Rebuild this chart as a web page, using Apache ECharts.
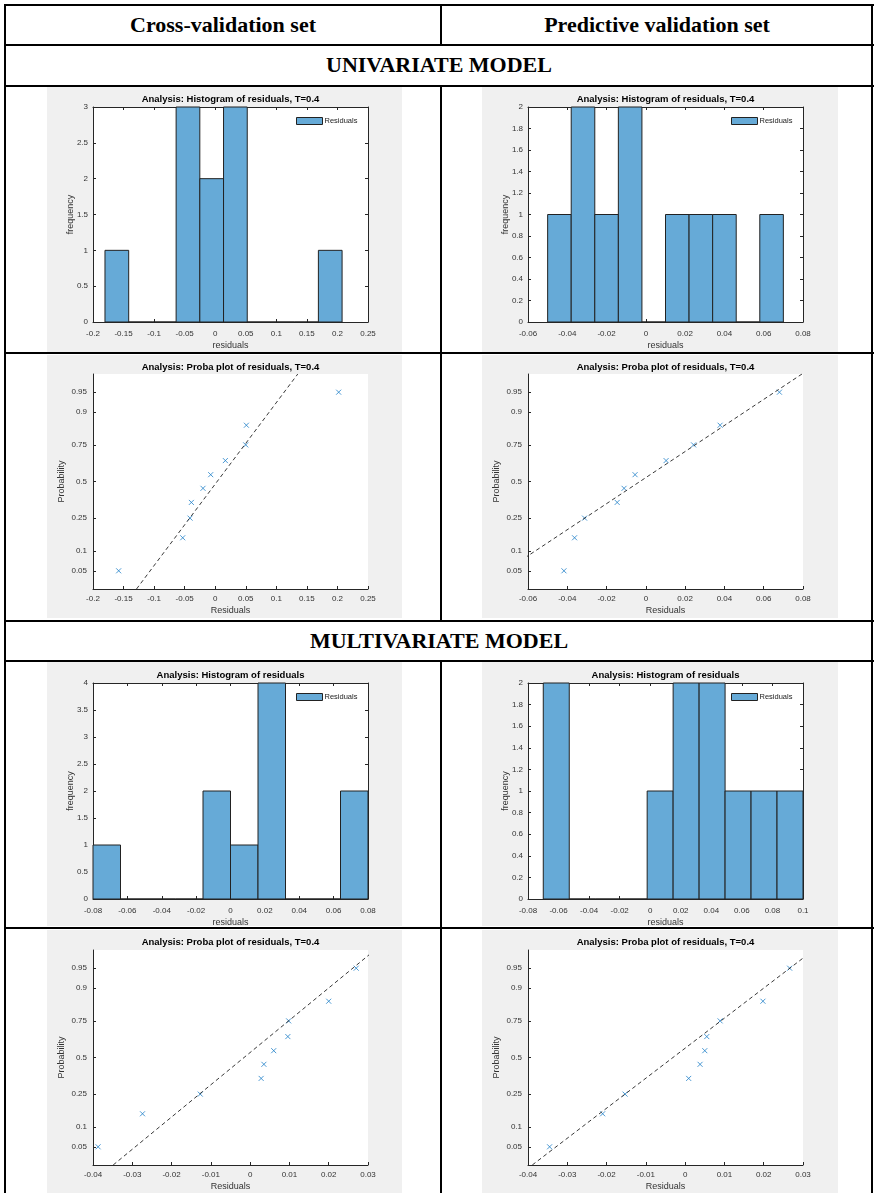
<!DOCTYPE html>
<html>
<head>
<meta charset="utf-8">
<script src="https://cdn.jsdelivr.net/npm/echarts@6.0.0/dist/echarts.min.js"></script>
<style>
  body { margin: 0; background: #fff; }
  #page { position: relative; width: 876px; height: 1193px; overflow: hidden; }
  .line { position: absolute; background: #000; }
  .head { position: absolute; font-family: "Liberation Serif", serif; font-weight: bold; font-size: 22px;
          color: #000; text-align: center; line-height: 24px; }
  .panel { position: absolute; background: #f0f0f0; }
</style>
</head>
<body>
<div id="page">
  <div class="head" style="left:6px;width:434px;top:13px;">Cross-validation set</div>
  <div class="head" style="left:442px;width:430px;top:13px;">Predictive validation set</div>
  <div class="head" style="left:6px;width:866px;top:53px;">UNIVARIATE MODEL</div>
  <div class="head" style="left:6px;width:866px;top:629px;">MULTIVARIATE MODEL</div>

  <div class="panel" id="c1" style="left:47px;top:87px;width:355px;height:265px;"></div>
  <div class="panel" id="c2" style="left:482px;top:87px;width:356px;height:265px;"></div>
  <div class="panel" id="c3" style="left:47px;top:355px;width:355px;height:263px;"></div>
  <div class="panel" id="c4" style="left:482px;top:355px;width:356px;height:263px;"></div>
  <div class="panel" id="c5" style="left:47px;top:662px;width:355px;height:264px;"></div>
  <div class="panel" id="c6" style="left:482px;top:662px;width:356px;height:264px;"></div>
  <div class="panel" id="c7" style="left:47px;top:930px;width:355px;height:263px;"></div>
  <div class="panel" id="c8" style="left:482px;top:930px;width:356px;height:263px;"></div>

  <!-- table rules -->
  <div class="line" style="left:4px;top:4px;width:870px;height:2px;"></div>
  <div class="line" style="left:4px;top:4px;width:2px;height:1189px;"></div>
  <div class="line" style="left:871px;top:4px;width:2px;height:1189px;"></div>
  <div class="line" style="left:4px;top:44px;width:870px;height:2px;"></div>
  <div class="line" style="left:4px;top:85px;width:870px;height:2px;"></div>
  <div class="line" style="left:4px;top:352px;width:870px;height:2px;"></div>
  <div class="line" style="left:4px;top:620px;width:870px;height:2px;"></div>
  <div class="line" style="left:4px;top:660px;width:870px;height:2px;"></div>
  <div class="line" style="left:4px;top:927px;width:870px;height:2px;"></div>
  <div class="line" style="left:440px;top:4px;width:2px;height:41px;"></div>
  <div class="line" style="left:440px;top:85px;width:2px;height:536px;"></div>
  <div class="line" style="left:440px;top:660px;width:2px;height:533px;"></div>
</div>
<script>
const histTitleT = 'Analysis: Histogram of residuals, T=0.4';
const histTitle = 'Analysis: Histogram of residuals';
const probaTitle = 'Analysis: Proba plot of residuals, T=0.4';

// univariate model, cross-validation set
const uniCvEdges = [-0.1804, -0.1416, -0.1028, -0.064, -0.0252, 0.0136, 0.0524, 0.0912, 0.13, 0.1688, 0.2076];
const uniCvCounts = [1, 0, 0, 3, 2, 3, 0, 0, 0, 1];
const uniCvResiduals = [-0.158, -0.0532, -0.0412, -0.039, -0.020, -0.0074, 0.0166, 0.0499, 0.051, 0.202];
const uniCvRefLine = [[-0.0418, 0.25], [0.0481, 0.75]];
const uniCvX = [-0.2, 0.25, 0.05];
const uniCvY = [0, 3, 0.5];

// univariate model, predictive validation set
const uniPvEdges = [-0.05, -0.038, -0.026, -0.014, -0.002, 0.010, 0.022, 0.034, 0.046, 0.058, 0.070];
const uniPvCounts = [1, 2, 1, 2, 0, 1, 1, 1, 0, 1];
const uniPvResiduals = [-0.0417, -0.0363, -0.0312, -0.0146, -0.0111, -0.0055, 0.0103, 0.0243, 0.0378, 0.068];
const uniPvRefLine = [[-0.0311, 0.25], [0.0251, 0.75]];
const uniPvX = [-0.06, 0.08, 0.02];
const uniPvY = [0, 2, 0.2];

// multivariate model, cross-validation set
const mulCvEdges = [-0.08, -0.064, -0.048, -0.032, -0.016, 0, 0.016, 0.032, 0.048, 0.064, 0.08];
const mulCvCounts = [1, 0, 0, 0, 2, 1, 4, 0, 0, 2];
const mulCvResiduals = [-0.0387, -0.0274, -0.0127, 0.0028, 0.0035, 0.0060, 0.0096, 0.0098, 0.0200, 0.0270];
const mulCvRefLine = [[-0.0129, 0.25], [0.0098, 0.75]];
const mulCvX = [-0.08, 0.08, 0.02];
const mulCvY = [0, 4, 0.5];
const mulCvPX = [-0.04, 0.03, 0.01];

// multivariate model, predictive validation set
const mulPvEdges = [-0.070, -0.053, -0.036, -0.019, -0.002, 0.015, 0.032, 0.049, 0.066, 0.083, 0.100];
const mulPvCounts = [2, 0, 0, 0, 1, 2, 2, 1, 1, 1];
const mulPvResiduals = [-0.0345, -0.0210, -0.0153, 0.0009, 0.0038, 0.0050, 0.0055, 0.0089, 0.0198, 0.0266];
const mulPvRefLine = [[-0.0153, 0.25], [0.0091, 0.75]];
const mulPvX = [-0.08, 0.1, 0.02];
const mulPvY = [0, 2, 0.2];
const mulPvPX = [-0.04, 0.03, 0.01];

// plotting positions (i-0.5)/n and probability axis ticks
const probLevels = [0.05, 0.15, 0.25, 0.35, 0.45, 0.55, 0.65, 0.75, 0.85, 0.95];
const probTicks = [0.05, 0.1, 0.25, 0.5, 0.75, 0.9, 0.95];
const zLimit = 1.98;

const FONT = 'Liberation Sans';
const INK = '#262626';

function norminv(p) {
  const a = [-3.969683028665376e+01, 2.209460984245205e+02, -2.759285104469687e+02, 1.383577518672690e+02, -3.066479806614716e+01, 2.506628277459239e+00];
  const b = [-5.447609879822406e+01, 1.615858368580409e+02, -1.556989798598866e+02, 6.680131188771972e+01, -1.328068155288572e+01];
  const c = [-7.784894002430293e-03, -3.223964580411365e-01, -2.400758277161838e+00, -2.549732539343734e+00, 4.374664141464968e+00, 2.938163982698783e+00];
  const d = [7.784695709041462e-03, 3.224671290700398e-01, 2.445134137142996e+00, 3.754408661907416e+00];
  const pl = 0.02425;
  if (p < pl) {
    const q = Math.sqrt(-2 * Math.log(p));
    return (((((c[0]*q+c[1])*q+c[2])*q+c[3])*q+c[4])*q+c[5]) / ((((d[0]*q+d[1])*q+d[2])*q+d[3])*q+1);
  }
  if (p > 1 - pl) {
    const q = Math.sqrt(-2 * Math.log(1 - p));
    return -(((((c[0]*q+c[1])*q+c[2])*q+c[3])*q+c[4])*q+c[5]) / ((((d[0]*q+d[1])*q+d[2])*q+d[3])*q+1);
  }
  const q = p - 0.5, r = q * q;
  return (((((a[0]*r+a[1])*r+a[2])*r+a[3])*r+a[4])*r+a[5])*q / (((((b[0]*r+b[1])*r+b[2])*r+b[3])*r+b[4])*r+1);
}

const tickLabel = { fontSize: 8, color: '#333', fontFamily: FONT };
const nameStyle = { fontSize: 9, color: '#333', fontFamily: FONT };

function titleOpt(text, top) {
  return {
    text, left: 46 + 137.5, textAlign: 'center', top, padding: 0,
    textStyle: { fontSize: 9.5, fontWeight: 'bold', color: '#000', fontFamily: FONT }
  };
}

function gridOpt(top, h) {
  return {
    left: 46, top, width: 275, height: h, show: true, backgroundColor: '#fff', borderWidth: 0,
    outerBoundsMode: 'none', containLabel: false
  };
}

function boxAxis(range, pos, labelled, name, gap) {
  return {
    type: 'value', position: pos, min: range[0], max: range[1], interval: range[2],
    axisLine: { show: true, onZero: false, lineStyle: { color: INK, width: 1 } },
    axisTick: { show: true, inside: true, length: 3, lineStyle: { color: INK } },
    axisLabel: Object.assign({ show: labelled, margin: pos === 'bottom' ? 8 : 5 }, tickLabel),
    splitLine: { show: false },
    name: labelled ? name : '', nameLocation: 'middle', nameGap: gap, nameMoveOverlap: false,
    nameTextStyle: nameStyle
  };
}

function histChart(id, title, edges, counts, xr, yr, gridTop, gridH, titleTop) {
  const chart = echarts.init(document.getElementById(id));
  const data = counts.map((n, i) => [edges[i], edges[i + 1], n]);
  chart.setOption({
    animation: false,
    title: titleOpt(title, titleTop),
    grid: gridOpt(gridTop, gridH),
    legend: {
      left: 46 + 203, top: gridTop + 10, padding: 0, itemWidth: 26, itemHeight: 7, itemGap: 2,
      icon: 'rect',
      itemStyle: { color: '#66aad7', borderColor: '#222', borderWidth: 1 },
      textStyle: { fontSize: 7.5, color: '#222', fontFamily: FONT, padding: [0, 0, 0, -3] },
      data: ['Residuals']
    },
    xAxis: [boxAxis(xr, 'bottom', true, 'residuals', 19), boxAxis(xr, 'top', false)],
    yAxis: [boxAxis(yr, 'left', true, 'frequency', 18), boxAxis(yr, 'right', false)],
    series: [{
      name: 'Residuals', type: 'custom', data,
      encode: { x: [0, 1], y: 2 },
      itemStyle: { color: '#66aad7', borderColor: '#222', borderWidth: 1 },
      renderItem(params, api) {
        const p0 = api.coord([api.value(0), 0]);
        const p1 = api.coord([api.value(1), api.value(2)]);
        return {
          type: 'rect',
          shape: { x: p0[0], y: p1[1], width: p1[0] - p0[0], height: p0[1] - p1[1] },
          style: { fill: '#66aad7', stroke: '#222', lineWidth: 1 }
        };
      }
    }]
  });
}

function probaChart(id, residuals, refLine, xr, gridTop, gridH, titleTop) {
  const chart = echarts.init(document.getElementById(id));
  const zTicks = probTicks.map(norminv);
  const pts = residuals.map((r, i) => [r, norminv(probLevels[i])]);
  const [a, b] = refLine.map(([x, p]) => [x, norminv(p)]);
  const slope = (b[0] - a[0]) / (b[1] - a[1]);
  const line = [-zLimit, zLimit].map(z => [a[0] + (z - a[1]) * slope, z]);
  chart.setOption({
    animation: false,
    title: titleOpt(probaTitle, titleTop),
    grid: gridOpt(gridTop, gridH),
    xAxis: {
      type: 'value', min: xr[0], max: xr[1], interval: xr[2],
      axisLine: { onZero: false, lineStyle: { color: INK } },
      axisTick: { inside: true, length: 3, lineStyle: { color: INK } },
      axisLabel: Object.assign({ margin: 6 }, tickLabel),
      splitLine: { show: false },
      name: 'Residuals', nameLocation: 'middle', nameGap: 17, nameMoveOverlap: false,
      nameTextStyle: nameStyle
    },
    yAxis: {
      type: 'value', min: -zLimit, max: zLimit,
      axisLine: { show: true, onZero: false, lineStyle: { color: INK } },
      axisTick: { show: true, inside: true, length: 3, customValues: zTicks, lineStyle: { color: INK } },
      axisLabel: Object.assign({
        margin: 6, customValues: zTicks,
        formatter: v => String(probTicks[zTicks.findIndex(z => Math.abs(z - v) < 1e-6)])
      }, tickLabel),
      splitLine: { show: false },
      name: 'Probability', nameLocation: 'middle', nameGap: 27, nameMoveOverlap: false,
      nameTextStyle: nameStyle
    },
    series: [
      {
        type: 'line', data: line, symbol: 'none', clip: true,
        lineStyle: { color: '#222', width: 0.9, type: [4, 3] }
      },
      {
        type: 'scatter', data: pts, symbol: 'path://M0,0L10,10M10,0L0,10', symbolSize: 5,
        itemStyle: { color: 'transparent', borderColor: '#1f7fc8', borderWidth: 1 }
      }
    ]
  });
}

histChart('c1', histTitleT, uniCvEdges, uniCvCounts, uniCvX, uniCvY, 20, 215, 7);
histChart('c2', histTitleT, uniPvEdges, uniPvCounts, uniPvX, uniPvY, 20, 215, 7);
probaChart('c3', uniCvResiduals, uniCvRefLine, uniCvX, 19, 215, 7);
probaChart('c4', uniPvResiduals, uniPvRefLine, uniPvX, 19, 215, 7);
histChart('c5', histTitle, mulCvEdges, mulCvCounts, mulCvX, mulCvY, 21, 216, 8);
histChart('c6', histTitle, mulPvEdges, mulPvCounts, mulPvX, mulPvY, 21, 216, 8);
probaChart('c7', mulCvResiduals, mulCvRefLine, mulCvPX, 20, 215, 7);
probaChart('c8', mulPvResiduals, mulPvRefLine, mulPvPX, 20, 215, 7);
</script>
</body>
</html>
